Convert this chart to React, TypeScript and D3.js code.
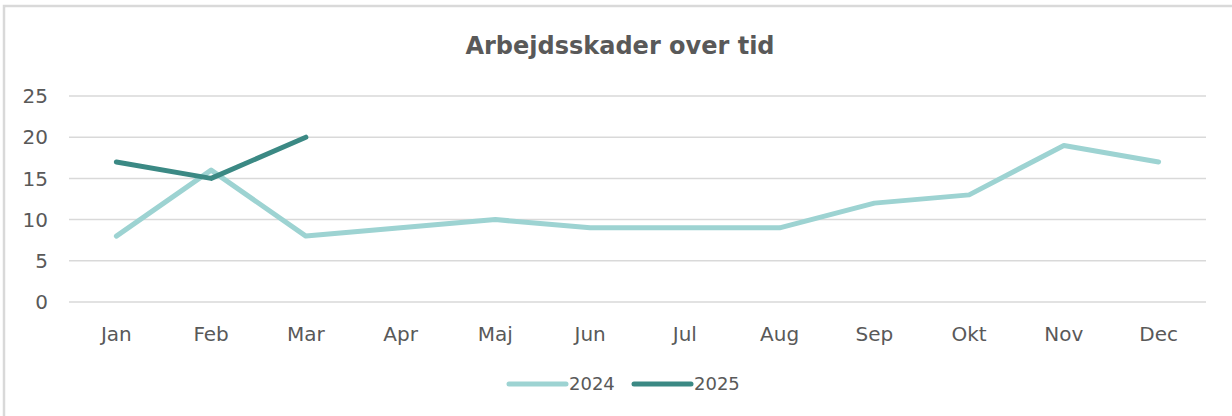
import React from "react";
import * as d3 from "d3";

const months = ["Jan", "Feb", "Mar", "Apr", "Maj", "Jun", "Jul", "Aug", "Sep", "Okt", "Nov", "Dec"];
const values2024 = [8, 16, 8, 9, 10, 9, 9, 9, 12, 13, 19, 17];
const values2025 = [17, 15, 20];
const yTicks = [0, 5, 10, 15, 20, 25];
const seriesNames = ["2024", "2025"];
const colors = ["#9dd3d2", "#3b8984"];

const W = 1232;
const H = 416;
const left = 69;
const right = 1206;
const top = 96;
const bottom = 302;
const font = "'DejaVu Sans', sans-serif";

export default function App() {
  const x = d3.scaleBand<string>().domain(months).range([left, right]);
  const y = d3.scaleLinear().domain([0, 25]).range([bottom, top]);
  const line = d3
    .line<number>()
    .x((_, i) => (x(months[i]) as number) + x.bandwidth() / 2)
    .y((d) => y(d));
  const series = [values2024, values2025];
  const legendX = [509, 634];
  return (
    <div style={{ position: "absolute", left: 0, top: 0 }}>
      <svg width={W} height={H} style={{ display: "block", background: "#fff" }}>
        <rect x={4} y={6} width={W + 10} height={H + 10} fill="#fff" stroke="#d9d9d9" strokeWidth={2.5} />
        <text x={620} y={54} textAnchor="middle" fontFamily={font} fontWeight="bold" fontSize={24} fill="#595959">
          Arbejdsskader over tid
        </text>
        {yTicks.map((t) => (
          <g key={t}>
            <line x1={left} x2={right} y1={y(t)} y2={y(t)} stroke="#d9d9d9" strokeWidth={1.5} />
            <text x={48} y={y(t)} dy="0.36em" textAnchor="end" fontFamily={font} fontSize={20} fill="#595959">
              {t}
            </text>
          </g>
        ))}
        {months.map((m) => (
          <text
            key={m}
            x={(x(m) as number) + x.bandwidth() / 2}
            y={334}
            dy="0.36em"
            textAnchor="middle"
            fontFamily={font}
            fontSize={20}
            fill="#595959"
          >
            {m}
          </text>
        ))}
        {series.map((s, i) => (
          <path
            key={i}
            d={line(s) || ""}
            fill="none"
            stroke={colors[i]}
            strokeWidth={5}
            strokeLinejoin="round"
            strokeLinecap="round"
          />
        ))}
        {seriesNames.map((n, i) => (
          <g key={n}>
            <line
              x1={legendX[i]}
              x2={legendX[i] + 57}
              y1={384}
              y2={384}
              stroke={colors[i]}
              strokeWidth={5}
              strokeLinecap="round"
            />
            <text x={legendX[i] + 60} y={384} dy="0.36em" fontFamily={font} fontSize={18} fill="#595959">
              {n}
            </text>
          </g>
        ))}
      </svg>
    </div>
  );
}
